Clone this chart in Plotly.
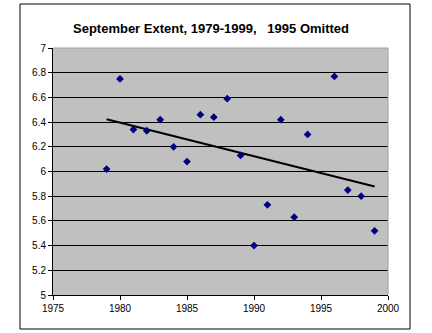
import numpy as np
import plotly.graph_objects as go

# September sea-ice extent by year (1995 left out)
years = [1979, 1980, 1981, 1982, 1983, 1984, 1985, 1986, 1987, 1988,
         1989, 1990, 1991, 1992, 1993, 1994, 1996, 1997, 1998, 1999]
extent = [6.02, 6.75, 6.34, 6.33, 6.42, 6.20, 6.08, 6.46, 6.44, 6.59,
          6.13, 5.40, 5.73, 6.42, 5.63, 6.30, 6.77, 5.85, 5.80, 5.52]

x_ticks = [1975, 1980, 1985, 1990, 1995, 2000]
y_ticks = [5, 5.2, 5.4, 5.6, 5.8, 6, 6.2, 6.4, 6.6, 6.8, 7]

# least-squares linear trend through the points
slope, intercept = np.polyfit(years, extent, 1)
trend_x = [years[0], years[-1]]
trend_y = [slope * x + intercept for x in trend_x]

fig = go.Figure()
fig.add_trace(go.Scatter(
    x=trend_x, y=trend_y, mode="lines",
    line=dict(color="black", width=2),
    showlegend=False,
))
fig.add_trace(go.Scatter(
    x=years, y=extent, mode="markers",
    marker=dict(symbol="diamond", size=6, color="#000080"),
    showlegend=False,
))

axis_font = dict(family="Arial, Liberation Sans, sans-serif", size=10, color="black")

fig.update_layout(
    width=432, height=333,
    margin=dict(l=53, r=44, t=48, b=38),
    paper_bgcolor="white",
    plot_bgcolor="#C0C0C0",
    title=dict(
        text="<b>September Extent, 1979-1999,\u00a0\u00a0\u00a01995 Omitted</b>",
        x=211 / 432, xanchor="center",
        y=1 - 28 / 333, yanchor="middle",
        font=dict(family="Arial, Liberation Sans, sans-serif", size=13, color="black"),
    ),
    xaxis=dict(
        range=[1975, 2000], tickvals=x_ticks,
        showgrid=False, zeroline=False,
        showline=True, linecolor="black", linewidth=1,
        ticks="outside", ticklen=4, tickcolor="black",
        tickfont=axis_font,
    ),
    yaxis=dict(
        range=[5, 7], tickvals=y_ticks, tickformat=".1~f",
        showgrid=True, gridcolor="black", gridwidth=1,
        zeroline=False,
        showline=True, linecolor="black", linewidth=1,
        ticks="outside", ticklen=4, tickcolor="black",
        tickfont=axis_font,
    ),
    shapes=[
        # chart-area frame
        dict(type="rect", xref="paper", yref="paper",
             x0=(20 - 53) / 335, x1=(410 - 53) / 335,
             y0=(295 - 329) / 247, y1=(295 - 4) / 247,
             line=dict(color="black", width=1), fillcolor="rgba(0,0,0,0)",
             layer="below"),
        # light edge on top and right of the plot area
        dict(type="path", xref="paper", yref="paper",
             path="M 0 1 L 1 1 L 1 0",
             line=dict(color="#A0A0A0", width=1), layer="above"),
    ],
)

fig.write_html("out.html")
